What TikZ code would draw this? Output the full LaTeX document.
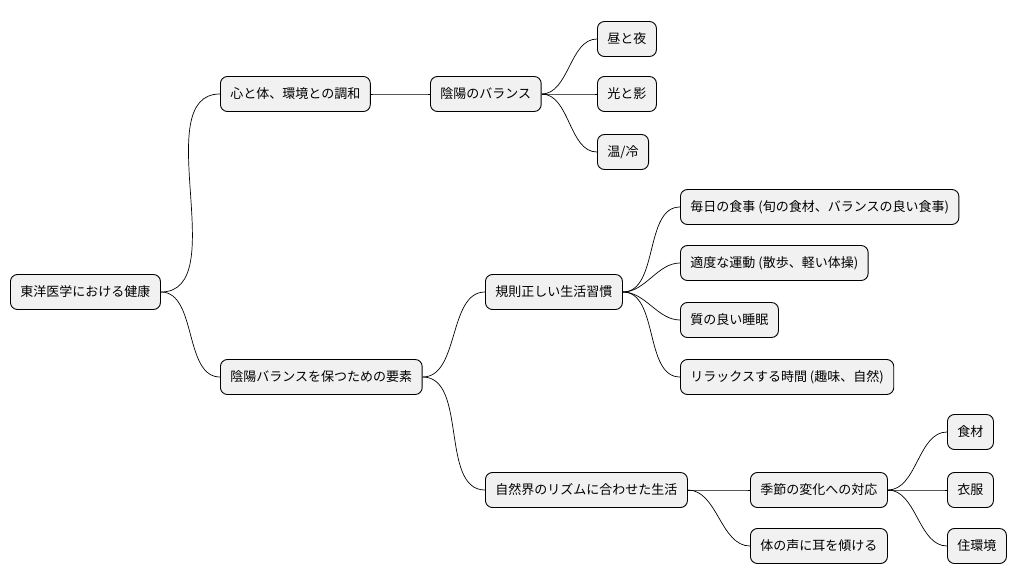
\documentclass[tikz,border=0pt]{standalone}
\usepackage{fontspec}
\setmainfont{Noto Sans CJK JP}
\usetikzlibrary{positioning}
\definecolor{boxfill}{HTML}{F1F1F1}
\tikzset{
	topic/.style={draw=black, fill=boxfill, rounded corners=7pt, minimum height=35pt,
		inner xsep=10pt, anchor=west, font=\fontsize{13}{15}\selectfont, line width=0.9pt},
	link/.style={draw=black, line width=0.7pt, out=0, in=180, looseness=0.9}
}
\begin{document}
\begin{tikzpicture}[x=1pt, y=-1pt]
	\useasboundingbox (0,0) rectangle (1020,583);

	% draw topics
	\node[topic] (root) at (10,292) {東洋医学における健康};
	\node[topic] (harmony) at (220,94) {心と体、環境との調和};
	\node[topic] (yinyang) at (430,94) {陰陽のバランス};
	\node[topic] (day) at (597,39) {昼と夜};
	\node[topic] (light) at (597,94) {光と影};
	\node[topic] (warm) at (597,152) {温/冷};
	\node[topic] (keep) at (220,377) {陰陽バランスを保つための要素};
	\node[topic] (habit) at (485,292) {規則正しい生活習慣};
	\node[topic] (meal) at (680,207) {毎日の食事 (旬の食材、バランスの良い食事)};
	\node[topic] (exercise) at (680,263) {適度な運動 (散歩、軽い体操)};
	\node[topic] (sleep) at (680,320) {質の良い睡眠};
	\node[topic] (relax) at (680,377) {リラックスする時間 (趣味、自然)};
	\node[topic] (nature) at (485,490) {自然界のリズムに合わせた生活};
	\node[topic] (season) at (750,490) {季節の変化への対応};
	\node[topic] (body) at (750,546) {体の声に耳を傾ける};
	\node[topic] (food) at (947,432) {食材};
	\node[topic] (cloth) at (947,490) {衣服};
	\node[topic] (house) at (947,546) {住環境};

	% draw links
	\foreach \a/\b in {root/harmony, root/keep, harmony/yinyang, yinyang/day, yinyang/light,
		yinyang/warm, keep/habit, keep/nature, habit/meal, habit/exercise, habit/sleep,
		habit/relax, nature/season, nature/body, season/food, season/cloth, season/house} {
		\draw[link] (\a.east) to (\b.west);
	}
\end{tikzpicture}
\end{document}
